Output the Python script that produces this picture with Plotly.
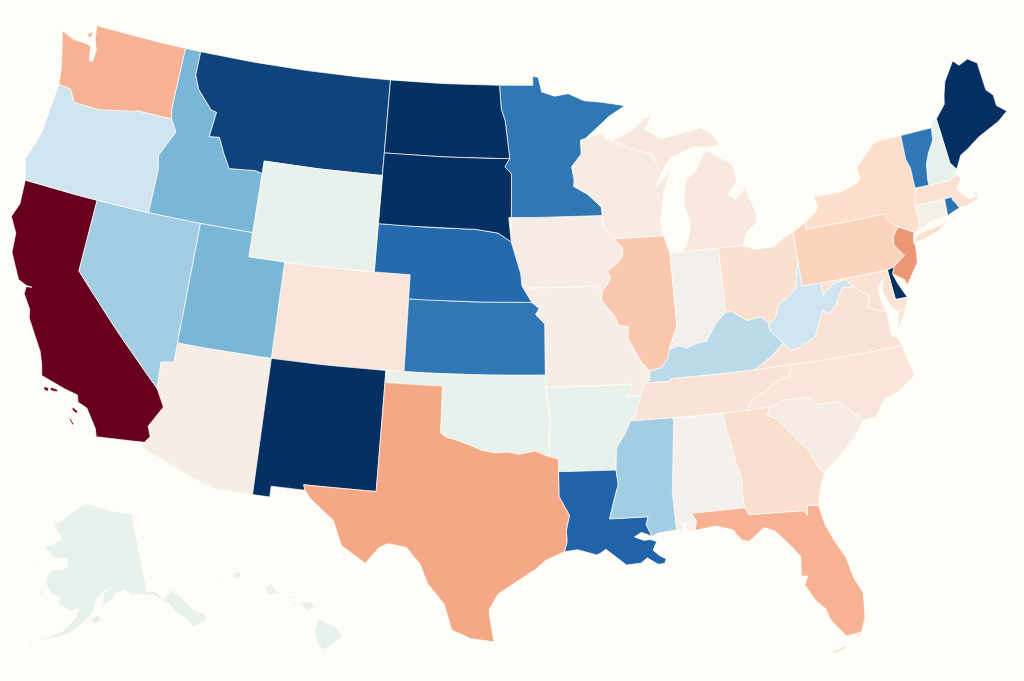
import numpy as np
import plotly.graph_objects as go
from plotly.colors import sample_colorscale

states = ["AL","AK","AZ","AR","CA","CO","CT","DE","DC","FL","GA","HI","ID","IL","IN","IA","KS","KY","LA","ME",
          "MD","MA","MI","MN","MS","MO","MT","NE","NV","NH","NJ","NM","NY","NC","ND","OH","OK","OR","PA","RI",
          "SC","SD","TN","TX","UT","VT","VA","WA","WV","WI","WY"]
values = [0.0,-0.08,0.03,-0.08,1.0,0.10,0.01,-1.0,-0.45,0.35,0.16,-0.08,-0.46,0.27,-0.01,0.04,-0.72,-0.27,-0.81,-1.0,
          0.13,0.14,0.08,-0.72,-0.35,0.03,-0.93,-0.78,-0.35,-0.08,0.44,-1.0,0.17,0.10,-1.0,0.15,-0.08,-0.20,0.23,-0.74,
          0.04,-1.0,0.12,0.39,-0.46,-0.72,0.12,0.35,-0.20,0.05,-0.08]

colors = [[0.0,"#053061"],[0.1,"#2166ac"],[0.2,"#4393c3"],[0.3,"#92c5de"],[0.4,"#d1e5f0"],[0.46,"#e8f1ec"],
          [0.5,"#f5f0ec"],[0.6,"#fddbc7"],[0.7,"#f4a582"],[0.8,"#d6604d"],[0.9,"#b2182b"],[1.0,"#67001f"]]

# frontieres communes (lon, lat)
MN_WI = [(-92.02,46.71),(-92.29,46.66),(-92.29,46.07),(-92.88,45.57),(-92.76,45.0),(-92.8,44.75),(-92.0,44.4),(-91.25,43.85),(-91.22,43.5)]
WI_IA = [(-91.22,43.5),(-91.15,43.0),(-90.64,42.51)]
IL_IA = [(-90.64,42.51),(-90.16,42.1),(-90.2,41.8),(-90.5,41.5),(-91.1,41.2),(-90.95,40.95),(-91.1,40.7),(-91.42,40.38)]
IL_MO = [(-91.42,40.38),(-91.5,40.0),(-90.75,39.25),(-90.7,38.95),(-90.12,38.85),(-90.2,38.4),(-89.9,37.9),(-89.5,37.3),(-89.13,36.98)]
TN_AR = [(-89.7,36.0),(-90.07,35.13),(-90.3,35.0)]
MS_AR = [(-90.3,35.0),(-90.6,34.5),(-91.1,33.9),(-91.17,33.0)]
MS_LA = [(-91.17,33.0),(-91.1,32.4),(-91.4,31.6),(-91.6,31.0),(-89.73,31.0),(-89.85,30.67),(-89.6,30.18)]
KY_IL = [(-89.13,36.98),(-88.5,37.1),(-88.1,37.5),(-88.03,37.8)]
KY_IN = [(-88.03,37.8),(-87.5,37.93),(-87.1,37.8),(-86.5,37.95),(-86.0,38.0),(-85.75,38.27),(-85.4,38.7),(-84.82,39.1)]
KY_OH = [(-84.82,39.1),(-84.5,39.1),(-83.7,38.65),(-83.0,38.73),(-82.6,38.42)]
WV_OH = [(-82.6,38.42),(-82.2,38.6),(-82.0,39.0),(-81.75,39.2),(-81.4,39.35),(-80.85,39.7),(-80.6,40.6),(-80.52,40.64)]
KY_WV = [(-82.6,38.42),(-82.6,38.1),(-81.97,37.54)]
KY_VA = [(-81.97,37.54),(-82.7,37.05),(-83.68,36.6)]
TN_NC = [(-81.68,36.59),(-82.0,36.1),(-82.6,36.03),(-83.1,35.77),(-84.0,35.4),(-84.32,34.99)]
NC_SC = [(-83.11,35.0),(-82.4,35.2),(-81.05,35.15),(-80.8,34.82),(-79.67,34.8),(-78.55,33.86)]
GA_SC = [(-83.11,35.0),(-83.35,34.7),(-82.9,34.48),(-82.0,33.5),(-81.5,33.0),(-81.1,32.1),(-80.88,32.03)]
GA_AL = [(-85.6,34.98),(-85.18,32.87),(-85.0,32.3),(-85.05,31.55),(-85.0,31.0)]
GA_FL = [(-85.0,31.0),(-84.86,30.7),(-82.2,30.57),(-82.05,30.36),(-82.0,30.75),(-81.45,30.71)]
AL_MS = [(-88.2,35.0),(-88.1,34.9),(-88.47,31.9),(-88.4,30.37)]
LA_TX = [(-93.84,29.7),(-93.7,30.1),(-93.72,30.6),(-93.55,31.2),(-94.04,31.99),(-94.04,33.02)]
RED_RIVER = [(-94.48,33.64),(-95.2,33.88),(-96.0,33.75),(-96.6,33.85),(-97.2,33.8),(-97.9,33.9),(-98.5,34.1),(-99.2,34.3),(-99.7,34.4),(-100.0,34.56)]
AR_OK = [(-94.48,33.64),(-94.43,35.39),(-94.62,36.5)]
COLORADO_R = [(-114.63,35.0),(-114.13,34.3),(-114.7,33.4),(-114.5,33.0),(-114.72,32.72)]
OR_WA = [(-123.95,46.2),(-123.2,46.15),(-122.75,45.65),(-121.2,45.65),(-119.3,45.93),(-118.98,46.0),(-116.92,46.0)]
OR_ID = [(-116.92,46.0),(-116.5,45.5),(-116.9,44.9),(-117.2,44.4),(-117.03,43.8),(-117.03,42.0)]
ID_MT = [(-116.05,49.0),(-116.05,48.0),(-115.7,47.45),(-114.7,46.7),(-114.35,46.65),(-114.5,45.6),(-113.9,45.65),(-113.45,45.0),(-113.0,44.45),(-111.5,44.55),(-111.05,44.48)]
ND_MN = [(-97.23,49.0),(-97.1,48.0),(-96.85,47.5),(-96.56,45.94)]
SD_MN = [(-96.56,45.94),(-96.85,45.6),(-96.45,45.3),(-96.45,43.5)]
MISSOURI_R = [(-96.45,42.49),(-96.1,41.7),(-95.92,41.2),(-95.85,40.7),(-95.77,40.58)]
KS_MO = [(-95.31,40.0),(-94.9,39.75),(-95.1,39.5),(-94.61,39.1),(-94.62,37.0)]
PA_NY_NJ = [(-75.35,42.0),(-75.07,41.6),(-74.7,41.36)]
PA_NJ = [(-74.7,41.36),(-75.1,41.0),(-75.15,40.65),(-74.73,40.15),(-75.4,39.8)]
DE_NJ = [(-75.4,39.8),(-75.55,39.5),(-75.4,39.1),(-75.05,38.45)]
POTOMAC = [(-76.3,38.05),(-76.95,38.25),(-77.25,38.4),(-77.04,38.79),(-77.12,38.93),(-77.5,39.1),(-77.75,39.32)]
MD_WV = [(-77.75,39.32),(-78.2,39.68),(-78.8,39.6),(-79.48,39.2),(-79.48,39.72)]
VA_WV = [(-77.75,39.32),(-78.35,39.4),(-78.87,38.76),(-79.3,38.42),(-79.65,38.58),(-80.25,37.6),(-81.22,37.24),(-81.68,37.2),(-81.97,37.54)]
VT_NH = [(-71.5,45.0),(-71.6,44.5),(-72.05,44.0),(-72.3,43.6),(-72.45,43.0),(-72.46,42.73)]
NH_ME = [(-71.08,45.3),(-70.98,43.4),(-70.7,43.07)]

def rev(line):
    return line[::-1]

# contours : une liste d'anneaux par etat
outlines = {
    "WA": [[(-124.1,46.9),(-124.7,48.38),(-123.9,48.17),(-123.1,48.15),(-122.75,48.1),(-122.6,47.5),(-122.4,47.5),(-122.35,48.0),(-122.6,48.4),(-122.75,49.0),(-117.03,49.0),(-117.04,46.42)] + rev(OR_WA),
           [(-123.1,48.6),(-122.85,48.7),(-122.9,48.45),(-123.1,48.45)]],
    "OR": [[(-124.2,42.0),(-124.55,42.85),(-124.1,44.0)] + OR_WA + OR_ID],
    "CA": [[(-124.2,42.0),(-120.0,42.0),(-120.0,39.0)] + COLORADO_R + [(-117.12,32.53),(-117.25,32.85),(-117.9,33.6),(-118.4,33.75),(-118.5,34.03),(-119.2,34.15),(-120.5,34.45),(-120.65,34.9),(-120.9,35.4),(-121.9,36.6),(-122.0,36.95),(-122.5,37.5),(-122.5,37.8),(-122.2,37.85),(-122.5,37.85),(-123.0,38.0),(-123.75,39.0),(-123.85,39.8),(-124.35,40.4),(-124.1,41.0)],
           [(-119.9,34.08),(-119.55,34.05),(-119.55,33.95),(-119.9,33.95)],
           [(-120.25,34.03),(-120.0,34.03),(-120.0,33.88),(-120.2,33.9)],
           [(-118.6,33.5),(-118.3,33.38),(-118.35,33.28),(-118.6,33.4)],
           [(-118.6,33.05),(-118.35,32.83),(-118.4,32.78),(-118.6,32.97)]],
    "NV": [[(-120.0,42.0),(-114.04,42.0),(-114.04,36.2),(-114.7,36.1),(-114.63,35.0),(-120.0,39.0)]],
    "ID": [[(-117.03,49.0)] + ID_MT + [(-111.05,42.0)] + rev(OR_ID) + [(-117.04,46.42)]],
    "MT": [[(-116.05,49.0),(-104.05,49.0),(-104.05,45.0),(-111.05,45.0)] + rev(ID_MT)],
    "WY": [[(-111.05,45.0),(-104.05,45.0),(-104.05,41.0),(-111.05,41.0)]],
    "UT": [[(-114.04,42.0),(-111.05,42.0),(-111.05,41.0),(-109.05,41.0),(-109.05,37.0),(-114.04,37.0)]],
    "AZ": [[(-114.04,37.0),(-109.05,37.0),(-109.05,31.33),(-111.07,31.33),(-114.81,32.49)] + rev(COLORADO_R) + [(-114.7,36.1),(-114.04,36.2)]],
    "CO": [[(-109.05,41.0),(-102.05,41.0),(-102.05,37.0),(-109.05,37.0)]],
    "NM": [[(-109.05,37.0),(-103.0,37.0),(-103.04,32.0),(-106.62,32.0),(-106.53,31.78),(-108.2,31.78),(-108.2,31.33),(-109.05,31.33)]],
    "ND": [[(-104.05,49.0)] + ND_MN + [(-104.05,45.94)]],
    "SD": [[(-104.05,45.94)] + SD_MN + [(-96.6,43.5),(-96.45,42.49),(-97.2,42.85),(-98.5,42.99),(-104.05,43.0)]],
    "NE": [[(-104.05,43.0),(-98.5,42.99),(-97.2,42.85)] + MISSOURI_R + [(-95.31,40.0),(-102.05,40.0),(-102.05,41.0),(-104.05,41.0)]],
    "KS": [[(-102.05,40.0)] + KS_MO + [(-102.05,37.0)]],
    "OK": [[(-103.0,37.0),(-94.62,37.0)] + rev(AR_OK) + RED_RIVER + [(-100.0,36.5),(-103.0,36.5)]],
    "TX": [[(-103.0,36.5),(-100.0,36.5)] + rev(RED_RIVER) + [(-94.04,33.55)] + rev(LA_TX) + [(-94.75,29.35),(-95.2,29.0),(-96.0,28.55),(-97.0,27.95),(-97.4,27.3),(-97.35,26.9),(-97.15,25.96),(-98.2,26.07),(-99.1,26.42),(-99.5,27.5),(-100.3,28.3),(-100.7,29.1),(-101.4,29.77),(-102.3,29.88),(-102.7,29.7),(-103.3,29.0),(-104.5,29.65),(-105.0,30.65),(-106.2,31.45),(-106.53,31.78),(-106.62,32.0),(-103.04,32.0)]],
    "MN": [[(-97.23,49.0),(-95.15,49.0),(-95.15,49.38),(-94.8,49.33),(-94.6,48.72),(-93.8,48.53),(-92.95,48.62),(-92.0,48.3),(-90.9,48.2),(-89.5,48.0),(-90.5,47.6)] + MN_WI + rev(SD_MN) + rev(ND_MN)],
    "IA": [[(-96.45,43.5),(-91.22,43.5)] + WI_IA + IL_IA + [(-91.73,40.61)] + rev(MISSOURI_R)],
    "MO": [[(-95.77,40.58),(-91.73,40.61)] + IL_MO + [(-89.2,36.6),(-89.42,36.5),(-89.7,36.0),(-90.37,35.99),(-90.13,36.42),(-90.2,36.5),(-94.62,36.5)] + rev(KS_MO)],
    "AR": [[(-94.62,36.5),(-90.2,36.5),(-90.13,36.42),(-90.37,35.99)] + TN_AR + MS_AR + [(-94.04,33.02),(-94.04,33.55)] + AR_OK],
    "LA": [MS_LA + [(-90.1,30.37),(-90.45,30.2),(-90.0,30.03),(-89.7,30.05),(-89.4,29.95),(-89.6,29.6),(-89.3,29.35),(-89.0,29.2),(-89.1,29.02),(-89.4,29.0),(-89.9,29.3),(-90.2,29.1),(-90.9,29.05),(-91.3,29.35),(-91.5,29.5),(-91.85,29.75),(-92.1,29.6),(-92.3,29.53),(-93.2,29.77)] + LA_TX],
    "WI": [[(-92.02,46.71),(-91.0,46.9),(-90.75,46.65),(-90.42,46.57),(-89.1,46.13),(-88.1,45.9),(-87.8,45.35),(-87.6,45.1),(-88.0,44.55),(-87.4,44.9),(-87.0,45.3),(-87.55,44.3),(-87.9,43.2),(-87.8,42.49),(-90.64,42.51)] + rev(WI_IA) + rev(MN_WI)],
    "IL": [[(-90.64,42.51),(-87.8,42.49),(-87.53,41.72),(-87.53,39.35),(-87.5,38.75)] + rev(KY_IL) + rev(IL_MO) + rev(IL_IA)],
    "IN": [[(-87.53,41.72),(-87.2,41.76),(-84.81,41.76)] + rev(KY_IN) + [(-87.5,38.75),(-87.53,39.35)]],
    "MI": [[(-86.82,41.76),(-86.5,42.1),(-86.2,42.9),(-86.5,43.7),(-86.25,44.7),(-85.6,45.0),(-85.0,45.75),(-84.75,45.78),(-83.4,45.1),(-83.3,44.4),(-83.9,43.9),(-83.5,43.65),(-82.9,44.05),(-82.42,43.0),(-82.5,42.6),(-83.1,42.25),(-83.45,41.73),(-84.81,41.76)],
           [(-90.42,46.57),(-89.1,46.95),(-88.4,47.4),(-87.9,47.47),(-88.4,46.95),(-87.4,46.5),(-86.0,46.67),(-85.0,46.77),(-84.4,46.5),(-84.0,46.0),(-84.8,45.95),(-85.6,46.05),(-86.5,45.8),(-87.0,45.7),(-87.6,45.1),(-87.8,45.35),(-88.1,45.9),(-89.1,46.13)]],
    "OH": [[(-84.81,41.76),(-83.45,41.73),(-82.7,41.5),(-81.7,41.5),(-81.0,41.85),(-80.52,41.98)] + rev(WV_OH) + rev(KY_OH)],
    "KY": [[(-89.13,36.98),(-89.2,36.6),(-89.42,36.5),(-88.07,36.5),(-88.07,36.6),(-83.68,36.6)] + rev(KY_VA) + rev(KY_WV) + rev(KY_OH) + rev(KY_IN) + rev(KY_IL)],
    "TN": [[(-90.3,35.0),(-84.32,34.99)] + rev(TN_NC) + [(-83.68,36.6),(-88.07,36.6),(-88.07,36.5),(-89.42,36.5),(-89.7,36.0),(-90.07,35.13)]],
    "MS": [[(-90.3,35.0),(-88.2,35.0)] + AL_MS + [(-89.3,30.3)] + rev(MS_LA) + rev(MS_AR)],
    "AL": [[(-88.2,35.0),(-85.6,34.98)] + GA_AL + [(-87.6,31.0),(-87.4,30.65),(-87.52,30.28),(-87.9,30.24),(-87.9,30.65),(-88.05,30.65),(-88.1,30.3),(-88.4,30.37)] + rev(AL_MS)],
    "GA": [[(-85.6,34.98),(-84.32,34.99)] + GA_SC + [(-81.2,31.5)] + rev(GA_FL) + rev(GA_AL)],
    "FL": [GA_FL + [(-81.3,29.9),(-80.95,29.1),(-80.55,28.4),(-80.35,27.5),(-80.03,26.8),(-80.13,25.8),(-80.4,25.2),(-81.1,25.13),(-81.7,25.9),(-81.85,26.4),(-82.25,26.8),(-82.65,27.5),(-82.45,27.85),(-82.75,27.9),(-82.65,28.7),(-83.0,29.15),(-83.7,29.9),(-84.2,30.1),(-85.0,29.6),(-85.35,29.7),(-85.7,30.15),(-86.5,30.38),(-87.52,30.28),(-87.4,30.65),(-87.6,31.0)],
           [(-80.55,25.02),(-80.3,25.3),(-80.45,25.2),(-80.65,24.98)],
           [(-81.8,24.55),(-81.2,24.7),(-81.2,24.65),(-81.8,24.5)]],
    "SC": [NC_SC + [(-79.2,33.2),(-80.0,32.6)] + rev(GA_SC)],
    "NC": [[(-84.32,34.99)] + NC_SC + [(-77.9,33.9),(-77.3,34.55),(-76.6,34.7),(-75.55,35.25),(-75.8,36.2),(-75.87,36.55)] + TN_NC],
    "VA": [[(-83.68,36.6),(-81.68,36.59),(-75.87,36.55),(-76.0,36.93),(-76.3,37.0),(-76.3,37.55)] + POTOMAC + VA_WV + KY_VA,
           [(-75.65,37.95),(-75.24,38.03),(-75.95,37.15)]],
    "WV": [[(-80.52,40.64),(-80.52,39.72)] + rev(MD_WV) + VA_WV + rev(KY_WV) + WV_OH],
    "MD": [[(-79.48,39.72),(-75.79,39.72),(-75.7,38.46),(-75.05,38.45),(-75.24,38.03),(-75.65,37.95),(-76.0,38.2),(-76.3,38.9),(-76.1,39.4),(-76.5,39.1),(-76.45,38.4)] + POTOMAC + MD_WV],
    "DC": [[(-77.12,38.93),(-77.04,39.0),(-76.91,38.89),(-77.04,38.79)]],
    "DE": [[(-75.79,39.72)] + DE_NJ + [(-75.7,38.46)]],
    "PA": [[(-80.52,41.98),(-79.76,42.27),(-79.76,42.0)] + PA_NY_NJ + PA_NJ + [(-75.79,39.72),(-80.52,39.72),(-80.52,40.64)]],
    "NJ": [[(-74.7,41.36),(-73.9,41.0),(-74.05,40.65),(-74.0,40.4),(-74.1,39.75),(-74.9,38.95),(-75.0,39.2),(-75.55,39.5)] + rev(PA_NJ)],
    "NY": [[(-79.76,42.27),(-79.0,42.7),(-78.9,42.9),(-79.05,43.27),(-77.5,43.25),(-76.4,43.5),(-76.2,43.6),(-76.3,44.1),(-75.0,44.95),(-74.7,45.0),(-73.35,45.0),(-73.4,44.0),(-73.25,43.6),(-73.27,42.75),(-73.5,42.05),(-73.49,41.2),(-73.7,41.1),(-73.65,40.98),(-73.9,41.0),(-74.7,41.36)] + rev(PA_NY_NJ) + [(-79.76,42.0)],
           [(-74.0,40.6),(-73.7,40.88),(-72.6,40.98),(-72.0,41.1),(-72.6,40.8),(-73.6,40.6)]],
    "VT": [[(-73.35,45.0)] + VT_NH + [(-73.27,42.75),(-73.25,43.6),(-73.4,44.0)]],
    "NH": [VT_NH[:1] + [(-71.3,45.3)] + NH_ME + [(-70.82,42.87),(-71.3,42.7)] + rev(VT_NH)[:-1]],
    "ME": [NH_ME[:1] + [(-70.4,45.8),(-70.25,46.2),(-70.0,46.7),(-69.2,47.45),(-68.9,47.2),(-68.3,47.35),(-67.8,47.07),(-67.78,45.9),(-67.45,45.6),(-67.45,45.15),(-66.97,44.8),(-67.6,44.5),(-68.5,44.25),(-69.0,44.1),(-69.8,43.75),(-70.25,43.6)] + rev(NH_ME)[:-1]],
    "MA": [[(-73.5,42.05),(-73.27,42.75),(-72.46,42.73),(-71.3,42.7),(-70.82,42.87),(-70.6,42.65),(-71.0,42.3),(-70.65,41.95),(-70.5,41.78),(-70.0,41.78),(-70.2,42.07),(-69.95,41.9),(-70.0,41.65),(-70.65,41.52),(-71.13,41.5),(-71.2,41.67),(-71.38,41.89),(-71.38,42.02),(-71.8,42.02)]],
    "RI": [[(-71.8,42.02),(-71.38,42.02),(-71.38,41.89),(-71.2,41.67),(-71.13,41.5),(-71.4,41.45),(-71.86,41.32)]],
    "CT": [[(-73.5,42.05),(-71.8,42.02),(-71.86,41.32),(-72.9,41.25),(-73.65,40.98),(-73.7,41.1),(-73.49,41.2)]],
    "AK": [[(-141.0,69.65),(-141.0,60.3),(-139.0,60.0),(-137.5,58.9),(-135.5,59.8),(-133.8,58.7),(-131.8,56.6),(-130.0,55.9),(-130.2,55.0),(-131.5,55.0),(-133.0,54.8),(-134.0,56.0),(-135.5,57.0),(-136.5,58.1),(-138.0,59.0),(-139.6,59.6),(-142.5,60.05),(-144.5,60.1),(-146.5,60.9),(-148.5,60.6),(-149.5,59.8),(-151.8,59.2),(-151.4,60.6),(-150.0,61.2),(-152.5,60.4),(-153.5,59.5),(-154.3,58.2),(-156.5,57.0),(-158.5,56.0),(-161.0,55.3),(-164.9,54.6),(-163.0,55.3),(-160.5,56.0),(-158.0,57.6),(-157.2,58.8),(-158.8,58.6),(-162.0,59.0),(-162.0,60.0),(-164.5,60.3),(-166.0,61.6),(-165.0,63.0),(-163.0,63.1),(-161.0,63.5),(-161.0,64.5),(-165.0,64.5),(-168.0,65.6),(-164.0,66.5),(-163.7,67.1),(-166.5,68.3),(-163.0,69.5),(-160.0,70.6),(-156.5,71.35),(-152.0,70.8),(-148.0,70.4),(-144.0,70.0)],
           [(-154.5,57.5),(-153.7,57.0),(-152.5,57.3),(-152.5,58.0),(-153.4,57.95)],
           [(-167.0,60.2),(-165.7,60.3),(-166.0,59.8)],
           [(-171.0,63.5),(-169.0,63.3),(-168.8,63.15),(-170.5,63.3)],
           [(-166.9,53.95),(-166.2,53.9),(-167.3,53.4)],
           [(-169.0,52.9),(-168.0,53.5),(-168.5,53.2)],
           [(-172.6,52.4),(-172.0,52.3),(-172.6,52.25)],
           [(-174.8,52.1),(-173.9,52.15),(-174.8,52.0)],
           [(-177.0,51.95),(-176.2,51.95),(-177.0,51.8)]],
    "HI": [[(-155.9,20.25),(-155.1,19.85),(-154.8,19.5),(-155.65,18.95),(-155.9,19.1),(-156.05,19.7)],
           [(-156.7,20.9),(-156.25,20.95),(-156.0,20.75),(-156.4,20.6),(-156.6,20.8)],
           [(-157.3,21.2),(-156.7,21.15),(-157.0,21.1)],
           [(-157.05,20.9),(-156.85,20.85),(-156.95,20.75)],
           [(-158.25,21.55),(-157.95,21.7),(-157.65,21.3),(-158.1,21.3)],
           [(-159.75,22.1),(-159.4,22.23),(-159.3,22.0),(-159.55,21.9)],
           [(-160.25,21.95),(-160.1,21.95),(-160.2,21.8)]],
}

# meme decoupage que geoAlbersUsa, plotly n'a pas de fond de carte sans reseau
K, TX, TY = 1380, 508, 334
insets = {
    "AK": dict(rot=154, center=(-2, 58.5), par=(55, 65), k=0.35 * K, tx=TX - 0.307 * K, ty=TY + 0.201 * K),
    "HI": dict(rot=157, center=(-3, 19.9), par=(8, 18), k=K, tx=TX - 0.205 * K, ty=TY + 0.212 * K),
}
main = dict(rot=96, center=(-0.6, 38.7), par=(29.5, 45.5), k=K, tx=TX, ty=TY)

def albers(lon, lat, rot, center, par, k, tx, ty):
    s0, s1 = np.sin(np.radians(par[0])), np.sin(np.radians(par[1]))
    n = (s0 + s1) / 2
    c = 1 + s0 * (2 * n - s0)
    def raw(lam, phi):
        r = np.sqrt(c - 2 * n * np.sin(np.radians(phi))) / n
        a = np.radians(lam) * n
        return r * np.sin(a), -r * np.cos(a)
    x, y = raw(np.asarray(lon) + rot, np.asarray(lat))
    cx, cy = raw(center[0], center[1])
    return tx + k * (x - cx), ty - k * (y - cy)

def densify(ring):
    pts = list(ring) + [ring[0]]
    lon, lat = [], []
    for (a, b), (c, d) in zip(pts[:-1], pts[1:]):
        steps = max(1, int(max(abs(c - a), abs(d - b)) / 0.5))
        lon += list(np.linspace(a, c, steps, endpoint=False))
        lat += list(np.linspace(b, d, steps, endpoint=False))
    lon.append(pts[-1][0])
    lat.append(pts[-1][1])
    return lon, lat

fig = go.Figure()
for state, value in zip(states, values):
    fill = sample_colorscale(colors, (value + 1) / 2)[0]
    params = insets.get(state, main)
    xs, ys = [], []
    for ring in outlines[state]:
        lon, lat = densify(ring)
        x, y = albers(lon, lat, **params)
        xs += list(x) + [None]
        ys += list(y) + [None]
    fig.add_trace(go.Scatter(
        x=xs, y=ys,
        mode="lines",
        fill="toself",
        fillcolor=fill,
        line=dict(color="#fffdf8", width=0.7),
        name=state,
        text=f"{state}: {value:.2f}",
        hoverinfo="text",
        showlegend=False,
    ))

fig.update_xaxes(range=[0, 1024], visible=False)
fig.update_yaxes(range=[681, 0], visible=False)
fig.update_layout(
    width=1024,
    height=681,
    margin=dict(l=0, r=0, t=0, b=0),
    paper_bgcolor="#fffdf8",
    plot_bgcolor="#fffdf8",
)

# la page garde sinon une marge blanche de 8 px autour de la figure
fig.write_html(
    "out.html",
    config={"displayModeBar": False},
    post_script="document.body.style.margin='0';document.body.style.background='#fffdf8';",
)
